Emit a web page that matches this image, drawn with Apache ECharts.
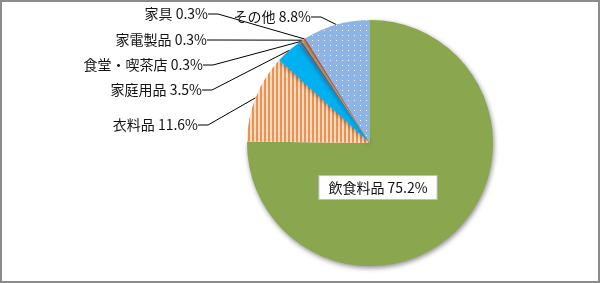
<!DOCTYPE html>
<html>
<head>
<meta charset="utf-8">
<script src="https://cdn.jsdelivr.net/npm/echarts@6/dist/echarts.min.js"></script>
<style>
html,body{margin:0;padding:0;background:#fff;}
#chart{width:600px;height:283px;}
</style>
</head>
<body>
<div id="chart"></div>
<script>
const categories = ['飲食料品', '衣料品', '家庭用品', '食堂・喫茶店', '家電製品', '家具', 'その他'];
const values = [75.2, 11.6, 3.5, 0.3, 0.3, 0.3, 8.8];
const colors = ['#8aa64f', '#fbdcc2', '#00b0f0', '#8064a2', '#9bbb59', '#c0504d', '#8db4e2'];

// label anchor layout (right edge x, middle y); first is inside label centre
const labelAnchors = [[378, 187.5], [198, 125], [202, 90], [203, 65], [207, 40], [208, 14], [311, 17]];

const decals = {
  1: {symbol: 'rect', symbolSize: 1, dashArrayX: [2, 2], dashArrayY: [1, 0], color: '#ec9150'},
  6: {symbol: 'rect', symbolSize: 1, dashArrayX: [1, 5], dashArrayY: [1, 4], color: '#f2f6fc'}
};

const data = categories.map((name, i) => {
  const item = {
    name: name,
    value: values[i],
    itemStyle: {color: colors[i]}
  };
  if (decals[i]) {
    item.itemStyle.decal = decals[i];
    item.itemStyle.shadowBlur = 0;
    item.itemStyle.shadowOffsetX = 0;
    item.itemStyle.shadowOffsetY = 0;
    item.itemStyle.shadowColor = 'transparent';
  }
  if (i === 0) {
    item.label = {
      position: 'inside',
      backgroundColor: '#ffffff',
      borderColor: '#bfbfbf',
      borderWidth: 1,
      padding: [5, 9, 4, 9]
    };
    item.labelLine = {show: false};
  }
  return item;
});

const chart = echarts.init(document.getElementById('chart'), null, {renderer: 'canvas'});
chart.setOption({
  animation: false,
  backgroundColor: '#ffffff',
  graphic: [{
    type: 'rect',
    shape: {x: 1, y: 1, width: 598, height: 281},
    style: {fill: 'none', stroke: '#8c8c8c', lineWidth: 2},
    z: 100
  }],
  series: [{
    type: 'pie',
    center: [370, 143],
    radius: 123,
    startAngle: 90,
    clockwise: true,
    avoidLabelOverlap: false,
    data: data,
    itemStyle: {
      shadowBlur: 5,
      shadowColor: 'rgba(0,0,0,0.45)',
      shadowOffsetX: 1,
      shadowOffsetY: 2
    },
    label: {
      show: true,
      position: 'outside',
      fontFamily: '"Noto Sans CJK JP", sans-serif',
      fontSize: 14,
      color: '#111111',
      formatter: p => p.name + ' ' + p.value.toFixed(1) + '%'
    },
    labelLine: {
      show: true,
      length: 10,
      length2: 10,
      lineStyle: {color: '#000000', width: 1}
    },
    labelLayout: function (p) {
      const a = labelAnchors[p.dataIndex];
      if (p.dataIndex === 0) {
        return {x: a[0], y: a[1], align: 'center', verticalAlign: 'middle'};
      }
      return {x: a[0], y: a[1], align: 'right', verticalAlign: 'middle'};
    },
    emphasis: {disabled: true}
  }]
});
</script>
</body>
</html>
